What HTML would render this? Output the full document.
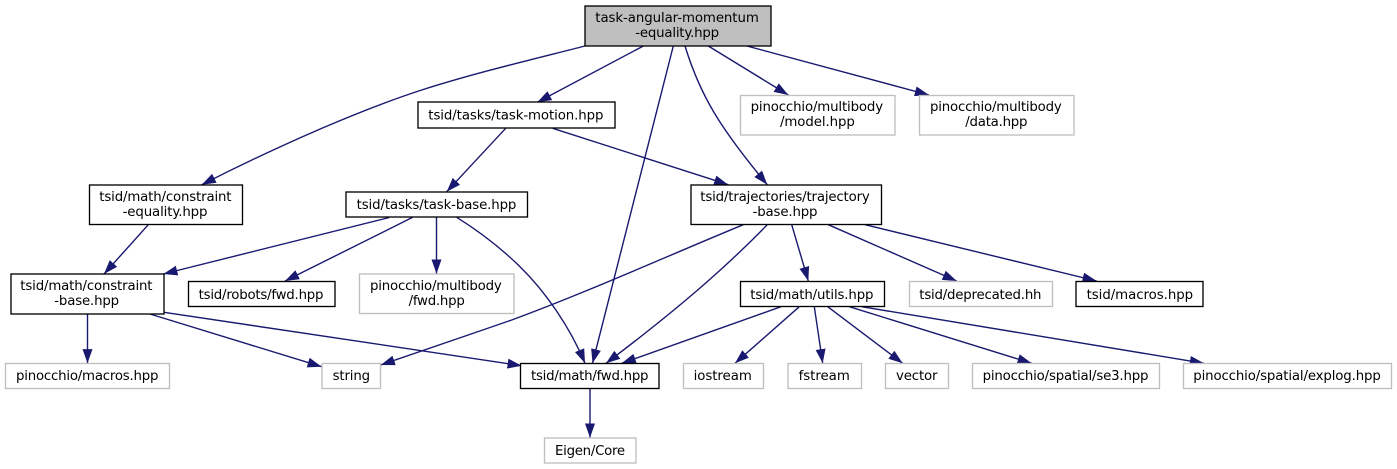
<!DOCTYPE html>
<html><head><meta charset="utf-8"><style>
html,body{margin:0;padding:0;background:#fff}
svg{display:block}
text{font-family:"DejaVu Sans",sans-serif;font-size:13.33px;fill:#000}
.e{fill:none;stroke:#191970;stroke-width:1.4;marker-end:url(#a)}
.b{fill:#fff;stroke:#000;stroke-width:1.33}
.g{fill:#fff;stroke:#bfbfbf;stroke-width:1.33}
</style></head><body>
<svg width="1397" height="469" viewBox="0 0 1397 469" xmlns="http://www.w3.org/2000/svg">
<defs><marker id="a" markerUnits="userSpaceOnUse" markerWidth="14.5" markerHeight="10" viewBox="0 0 14.5 10" refX="14.2" refY="5" orient="auto"><path d="M0,0 L14.2,5 L0,10 Z" fill="#191970"/></marker></defs>

<path class="e" d="M585,46 C530,60 475,73 421.700,90 C360,110 280,145 201.700,184.700"/>
<path class="e" d="M643.300,46 L537.300,102.300"/>
<path class="e" d="M673.300,46 L592.500,363.300"/>
<path class="e" d="M685,46 C700,95 720,128 767.300,184.700"/>
<path class="e" d="M708.300,46 L788.300,95"/>
<path class="e" d="M747,46 L929,95"/>
<path class="e" d="M505.700,128.300 L446.700,191.700"/>
<path class="e" d="M552.700,128.300 L728.300,184.700"/>
<path class="e" d="M148.300,224.700 L104,274"/>
<path class="e" d="M389.300,217.500 L163.300,274"/>
<path class="e" d="M412.700,217.300 L285,281"/>
<path class="e" d="M436.500,217.300 L436.500,273.700"/>
<path class="e" d="M456.700,217.300 C485,235 505,252 520,266.700 C545,291 570,327 585,363.300"/>
<path class="e" d="M87.500,314 L87.500,363.300"/>
<path class="e" d="M150,314 L321.700,366.700"/>
<path class="e" d="M164,312.300 L521.700,365.700"/>
<path class="e" d="M743.300,224.700 C665,257 590,291 511.700,320 C468,335 425,350 380.700,365"/>
<path class="e" d="M767.300,224.700 C735,258 690,300 606,363.300"/>
<path class="e" d="M791.700,224.700 L808.300,281"/>
<path class="e" d="M828.300,224.700 L956.700,281"/>
<path class="e" d="M865,224.700 L1096.700,281"/>
<path class="e" d="M781,306.700 L621.700,363.300"/>
<path class="e" d="M799.300,306.700 L735,363.300"/>
<path class="e" d="M814.300,306.700 L822.700,363.300"/>
<path class="e" d="M827.700,306.700 L902.700,363.300"/>
<path class="e" d="M849.300,306.700 L1031.700,363.300"/>
<path class="e" d="M861.700,306.700 L1204,363.300"/>
<path class="e" d="M590,388.700 L590,437.700"/>

<rect x="585" y="6" width="186" height="40" fill="#bfbfbf" stroke="#000" stroke-width="1.33"/>
<text x="595.300" y="22" textLength="163.500">task-angular-momentum</text>
<text x="635.300" y="37" textLength="83.800">-equality.hpp</text>

<rect class="b" x="418" y="102" width="197" height="26"/>
<text x="428.300" y="119.500" textLength="175.200">tsid/tasks/task-motion.hpp</text>

<rect class="g" x="740.500" y="95.500" width="154.500" height="39.500"/>
<text x="750.600" y="111" textLength="132.500">pinocchio/multibody</text>
<text x="780" y="126" textLength="74.800">/model.hpp</text>
<rect class="g" x="919.500" y="95.500" width="154.500" height="39.500"/>
<text x="930" y="111" textLength="131.800">pinocchio/multibody</text>
<text x="965.300" y="126" textLength="62.200">/data.hpp</text>

<rect class="b" x="89.500" y="185" width="153" height="39.500"/>
<text x="99.300" y="201" textLength="132.200">tsid/math/constraint</text>
<text x="122.600" y="216" textLength="84.900">-equality.hpp</text>
<rect class="b" x="346" y="192" width="181.500" height="25"/>
<text x="356.600" y="209" textLength="159.800">tsid/tasks/task-base.hpp</text>
<rect class="b" x="691" y="185" width="190.500" height="39.500"/>
<text x="700.300" y="201" textLength="169.500">tsid/trajectories/trajectory</text>
<text x="752.600" y="216" textLength="64.900">-base.hpp</text>

<rect class="b" x="11" y="274" width="153" height="40"/>
<text x="20.300" y="290" textLength="132.200">tsid/math/constraint</text>
<text x="54.300" y="305" textLength="64.800">-base.hpp</text>
<rect class="b" x="188.500" y="281.500" width="146.500" height="25"/>
<text x="198.600" y="299" textLength="124.900">tsid/robots/fwd.hpp</text>
<rect class="g" x="359.500" y="274" width="154.500" height="39.500"/>
<text x="370" y="290" textLength="131.800">pinocchio/multibody</text>
<text x="408.600" y="305" textLength="56.200">/fwd.hpp</text>
<rect class="b" x="740.500" y="281.500" width="144" height="25"/>
<text x="750.300" y="299" textLength="123.200">tsid/math/utils.hpp</text>
<rect class="g" x="909.500" y="281.500" width="143" height="25"/>
<text x="919.300" y="299" textLength="122.200">tsid/deprecated.hh</text>
<rect class="b" x="1076" y="281.500" width="127" height="25"/>
<text x="1086.600" y="299" textLength="106.500">tsid/macros.hpp</text>

<rect class="g" x="5.500" y="363.500" width="164" height="25"/>
<text x="16" y="380" textLength="142.500">pinocchio/macros.hpp</text>
<rect class="g" x="322" y="363.500" width="58.500" height="25"/>
<text x="332.600" y="380" textLength="37.500">string</text>
<rect class="b" x="520.500" y="363.500" width="138.500" height="25"/>
<text x="531" y="380" textLength="117.500">tsid/math/fwd.hpp</text>
<rect class="g" x="683.500" y="363.500" width="80" height="25"/>
<text x="693.600" y="380" textLength="58.200">iostream</text>
<rect class="g" x="788" y="363.500" width="73.500" height="25"/>
<text x="798.600" y="380" textLength="51.200">fstream</text>
<rect class="g" x="885.500" y="363.500" width="63" height="25"/>
<text x="896" y="380" textLength="41.500">vector</text>
<rect class="g" x="972.500" y="363.500" width="187" height="25"/>
<text x="982.600" y="380" textLength="165.900">pinocchio/spatial/se3.hpp</text>
<rect class="g" x="1183.500" y="363.500" width="208" height="25"/>
<text x="1193.300" y="380" textLength="187.500">pinocchio/spatial/explog.hpp</text>
<rect class="g" x="544.500" y="438" width="91.500" height="25"/>
<text x="555" y="455" textLength="70.100">Eigen/Core</text>
</svg>
</body></html>
